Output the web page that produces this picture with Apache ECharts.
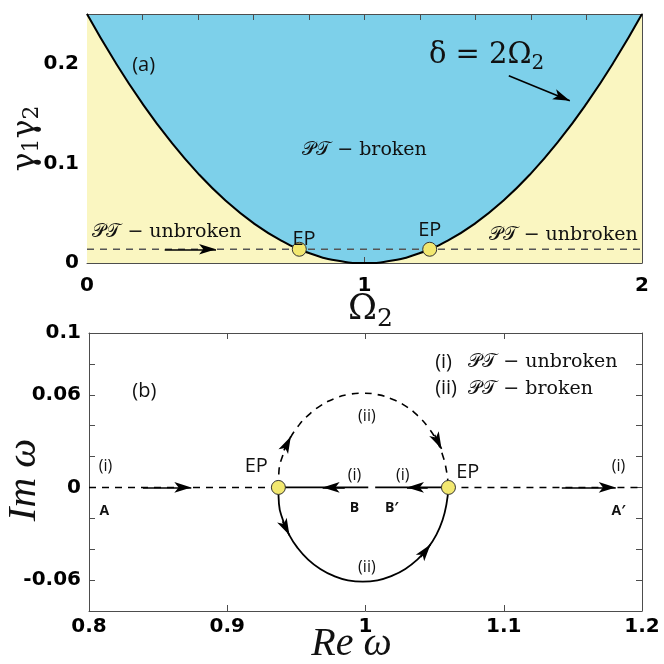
<!DOCTYPE html>
<html>
<head>
<meta charset="utf-8">
<script src="https://cdn.jsdelivr.net/npm/echarts@6/dist/echarts.min.js"></script>
<style>
html, body { margin: 0; padding: 0; background: #fff; }
#chart { width: 664px; height: 664px; }
</style>
</head>
<body>
<div id="chart"></div>
<script>
// (a) boundary gamma1*gamma2 against Omega2
const aOmega = [0, 0.1, 0.2, 0.3, 0.4, 0.5, 0.6, 0.7, 0.8, 0.9, 1, 1.1, 1.2, 1.3, 1.4, 1.5, 1.6, 1.7, 1.8, 1.9, 2]
const aGamma = [0.25, 0.2025, 0.16, 0.1225, 0.09, 0.0625, 0.04, 0.0225, 0.01, 0.0025, 0, 0.0025, 0.01, 0.0225, 0.04, 0.0625, 0.09, 0.1225, 0.16, 0.2025, 0.25]
const aLevel = 0.0138
const aEP = [0.765, 1.235]
const aXLabels = [0, 1, 2]
const aYLabels = [0, 0.1, 0.2]

// (b) eigenfrequency trajectory, Re w / Im w
const bUpperArc = [[0.937, 0], [0.9374, 0.0106], [0.9402, 0.0209], [0.9447, 0.0305], [0.9509, 0.0392], [0.9585, 0.0467], [0.9673, 0.0528], [0.977, 0.0573], [0.9873, 0.0601], [0.998, 0.061], [1.0087, 0.0601], [1.019, 0.0573], [1.0288, 0.0528], [1.0375, 0.0467], [1.0451, 0.0392], [1.0513, 0.0305], [1.0558, 0.0209], [1.0586, 0.0106], [1.06, 0]]
const bLowerArc = [[0.937, 0], [0.9374, -0.0106], [0.9402, -0.0209], [0.9447, -0.0305], [0.9509, -0.0392], [0.9585, -0.0467], [0.9673, -0.0528], [0.977, -0.0573], [0.9873, -0.0601], [0.998, -0.061], [1.0087, -0.0601], [1.019, -0.0573], [1.0288, -0.0528], [1.0375, -0.0467], [1.0451, -0.0392], [1.0513, -0.0305], [1.0558, -0.0209], [1.0586, -0.0106], [1.06, 0]]
const bEP = [0.937, 1.06]
const bB = [1.002, 1.007]
const bXLabels = [0.8, 0.9, 1, 1.1, 1.2]
const bYLabels = [-0.06, 0, 0.06, 0.1]

// arrows: [from, to]
const aArrows = [[[0.28, aLevel], [0.465, aLevel]], [[1.52, 0.188], [1.74, 0.163]]]
const bArrows = [
  [[0.839, 0], [0.874, 0]],
  [[1.142, 0], [1.181, 0]],
  [[0.985, 0], [0.969, 0]],
  [[1.045, 0], [1.03, 0]],
  [[0.941, 0.024], [0.946, 0.033]],
  [[1.05, 0.034], [1.055, 0.025]],
  [[0.94, -0.022], [0.945, -0.031]],
  [[1.04, -0.045], [1.047, -0.037]]
]

const INK = '#111'
const FRAME = '#4d4d4d'

function pickLabel(list) {
  return function (v) {
    const hit = list.find(l => Math.abs(l - v) < 1e-9)
    return hit === undefined ? '' : String(hit)
  }
}

const tickFont = { fontFamily: 'DejaVu Sans', fontWeight: 'bold', fontSize: 20, color: '#000' }
const rich = {
  sans: { fontFamily: 'Open Sans', fontSize: 20, color: INK },
  sm: { fontFamily: 'Open Sans', fontSize: 16, color: INK },
  bd: { fontFamily: 'Open Sans', fontWeight: 'bold', fontSize: 14, color: INK },
  pt: { fontFamily: 'DejaVu Serif', fontSize: 19, color: INK },
  rm: { fontFamily: 'DejaVu Serif', fontSize: 19, color: INK },
  big: { fontFamily: 'DejaVu Serif', fontSize: 29, color: INK },
  bigsub: { fontFamily: 'DejaVu Serif', fontSize: 20, color: INK, padding: [16, 0, 0, 0] }
}

function frame(gridIndex, pos, min, max, interval, labels, gap) {
  return {
    gridIndex: gridIndex,
    type: 'value',
    position: pos,
    min: min,
    max: max,
    interval: interval,
    nameMoveOverlap: false,
    axisLine: { show: true, onZero: false, lineStyle: { color: FRAME, width: 1 } },
    axisTick: { show: true, inside: true, length: 6, lineStyle: { color: FRAME } },
    splitLine: { show: false },
    axisLabel: labels
      ? Object.assign({ formatter: pickLabel(labels), margin: gap }, tickFont)
      : { show: false }
  }
}

const xA = frame(0, 'bottom', 0, 2, 0.2, aXLabels, 13)
xA.name = '{o|Ω}{s|2}'
xA.nameLocation = 'middle'
xA.nameGap = 24
xA.nameTextStyle = {
  padding: [0, 0, 0, 12],
  rich: {
    o: { fontFamily: 'DejaVu Serif', fontSize: 35, color: INK },
    s: { fontFamily: 'DejaVu Serif', fontSize: 25, color: INK, padding: [20, 0, 0, 0] }
  }
}
const yA = frame(0, 'left', 0, 0.25, 0.05, aYLabels, 8)
yA.name = '{g|γ}{s|1}{g|γ}{s|2}'
yA.nameLocation = 'middle'
yA.nameGap = 44
yA.nameTextStyle = {
  rich: {
    g: { fontFamily: 'DejaVu Serif', fontSize: 32, color: INK },
    s: { fontFamily: 'DejaVu Serif', fontSize: 22, color: INK, padding: [12, 0, 0, 0] }
  }
}
const xB = frame(1, 'bottom', 0.8, 1.2, 0.1, bXLabels, 6)
xB.name = 'Re ω'
xB.nameLocation = 'middle'
xB.nameGap = 13
xB.nameTextStyle = { fontFamily: 'Liberation Serif', fontStyle: 'italic', fontSize: 40, color: INK, padding: [0, 28, 0, 0] }
const yB = frame(1, 'left', -0.08, 0.1, 0.02, bYLabels, 8)
yB.name = 'Im ω'
yB.nameLocation = 'middle'
yB.nameGap = 44
yB.nameTextStyle = { fontFamily: 'Liberation Serif', fontStyle: 'italic', fontSize: 41, color: INK, padding: [0, 16, 0, 0] }

function arrowLines(list) {
  return {
    silent: true,
    animation: false,
    symbol: ['none', 'arrow'],
    label: { show: false },
    lineStyle: { color: '#000', width: 1.6, type: 'solid' },
    emphasis: { disabled: true },
    data: list.map(a => [
      { coord: a[0], symbol: 'none' },
      { coord: a[1], symbol: 'arrow', symbolSize: [8, 17] }
    ])
  }
}

function notes(xi, yi, items) {
  return {
    type: 'scatter',
    xAxisIndex: xi,
    yAxisIndex: yi,
    symbolSize: 1,
    itemStyle: { color: 'rgba(0,0,0,0)', opacity: 1 },
    silent: true,
    z: 10,
    label: { show: true, position: 'inside', color: INK, opacity: 1, formatter: p => p.name, rich: rich },
    data: items
  }
}

const leftText = { position: 'right', distance: 0 }

const chart = echarts.init(document.getElementById('chart'))
chart.setOption({
  animation: false,
  grid: [
    { left: 87, top: 14, width: 555, height: 249, show: true, backgroundColor: '#7dd0ea', borderWidth: 0, outerBoundsMode: 'none', containLabel: false },
    { left: 89, top: 333, width: 553, height: 278, show: true, backgroundColor: '#fff', borderWidth: 0, outerBoundsMode: 'none', containLabel: false }
  ],
  xAxis: [xA, frame(0, 'top', 0, 2, 0.2), xB, frame(1, 'top', 0.8, 1.2, 0.1)],
  yAxis: [yA, frame(0, 'right', 0, 0.25, 0.05), yB, frame(1, 'right', -0.08, 0.1, 0.02)],
  series: [
    // (a)
    {
      type: 'line',
      xAxisIndex: 0,
      yAxisIndex: 0,
      data: aOmega.map((x, i) => [x, aGamma[i]]),
      smooth: true,
      symbol: 'none',
      lineStyle: { color: '#000', width: 2 },
      areaStyle: { color: '#faf6c1', opacity: 1 },
      z: 2
    },
    {
      type: 'line',
      xAxisIndex: 0,
      yAxisIndex: 0,
      data: [[0, aLevel], [2, aLevel]],
      symbol: 'none',
      lineStyle: { color: '#555', width: 1.3, type: [7, 6] },
      markLine: arrowLines(aArrows),
      z: 3
    },
    {
      type: 'scatter',
      xAxisIndex: 0,
      yAxisIndex: 0,
      data: aEP.map(x => [x, aLevel]),
      symbolSize: 14,
      itemStyle: { color: '#f2e870', borderColor: '#333', borderWidth: 1, opacity: 1 },
      z: 6
    },
    notes(0, 0, [
      { name: '{sans|(a)}', value: [0.204, 0.198] },
      { name: '{pt|𝒫𝒯}{rm| − broken}', value: [1.0, 0.113] },
      { name: '{pt|𝒫𝒯}{rm| − unbroken}', value: [0.288, 0.031] },
      { name: '{pt|𝒫𝒯}{rm| − unbroken}', value: [1.716, 0.028] },
      { name: '{big|δ = 2Ω}{bigsub|2}', value: [1.44, 0.208] },
      { name: '{sans|EP}', value: [0.782, 0.024] },
      { name: '{sans|EP}', value: [1.235, 0.033] }
    ]),
    // (b)
    {
      type: 'line',
      xAxisIndex: 2,
      yAxisIndex: 2,
      data: [[0.8, 0], [bEP[0], 0]],
      symbol: 'none',
      lineStyle: { color: '#000', width: 1.5, type: [7, 6] },
      markLine: arrowLines(bArrows)
    },
    {
      type: 'line',
      xAxisIndex: 2,
      yAxisIndex: 2,
      data: [[bEP[1], 0], [1.2, 0]],
      symbol: 'none',
      lineStyle: { color: '#000', width: 1.5, type: [7, 6] }
    },
    {
      type: 'line',
      xAxisIndex: 2,
      yAxisIndex: 2,
      data: [[bEP[0], 0], [bB[0], 0]],
      symbol: 'none',
      lineStyle: { color: '#000', width: 1.8 }
    },
    {
      type: 'line',
      xAxisIndex: 2,
      yAxisIndex: 2,
      data: [[bB[1], 0], [bEP[1], 0]],
      symbol: 'none',
      lineStyle: { color: '#000', width: 1.8 }
    },
    {
      type: 'line',
      xAxisIndex: 2,
      yAxisIndex: 2,
      data: bUpperArc,
      smooth: true,
      symbol: 'none',
      lineStyle: { color: '#000', width: 1.6, type: [7, 6] }
    },
    {
      type: 'line',
      xAxisIndex: 2,
      yAxisIndex: 2,
      data: bLowerArc,
      smooth: true,
      symbol: 'none',
      lineStyle: { color: '#000', width: 1.8 }
    },
    {
      type: 'scatter',
      xAxisIndex: 2,
      yAxisIndex: 2,
      data: bEP.map(x => [x, 0]),
      symbolSize: 14,
      itemStyle: { color: '#f2e870', borderColor: '#333', borderWidth: 1, opacity: 1 },
      z: 6
    },
    notes(2, 2, [
      { name: '{sans|(b)}', value: [0.84, 0.062] },
      { name: '{sm|(i)}', value: [0.812, 0.0135] },
      { name: '{bd|A}', value: [0.811, -0.015] },
      { name: '{sans|EP}', value: [0.921, 0.0135] },
      { name: '{sm|(i)}', value: [0.992, 0.008] },
      { name: '{sm|(i)}', value: [1.027, 0.008] },
      { name: '{bd|B}', value: [0.992, -0.013] },
      { name: '{bd|B′}', value: [1.019, -0.013] },
      { name: '{sans|EP}', value: [1.074, 0.0097] },
      { name: '{sm|(i)}', value: [1.183, 0.0135] },
      { name: '{bd|A′}', value: [1.183, -0.015] },
      { name: '{sm|(ii)}', value: [1.001, 0.046] },
      { name: '{sm|(ii)}', value: [1.001, -0.052] },
      { name: '{sans|(i)}', value: [1.05, 0.081], label: leftText },
      { name: '{sans|(ii)}', value: [1.05, 0.064], label: leftText },
      { name: '{pt|𝒫𝒯}{rm| − unbroken}', value: [1.074, 0.081], label: leftText },
      { name: '{pt|𝒫𝒯}{rm| − broken}', value: [1.074, 0.064], label: leftText }
    ])
  ]
})
</script>
</body>
</html>
